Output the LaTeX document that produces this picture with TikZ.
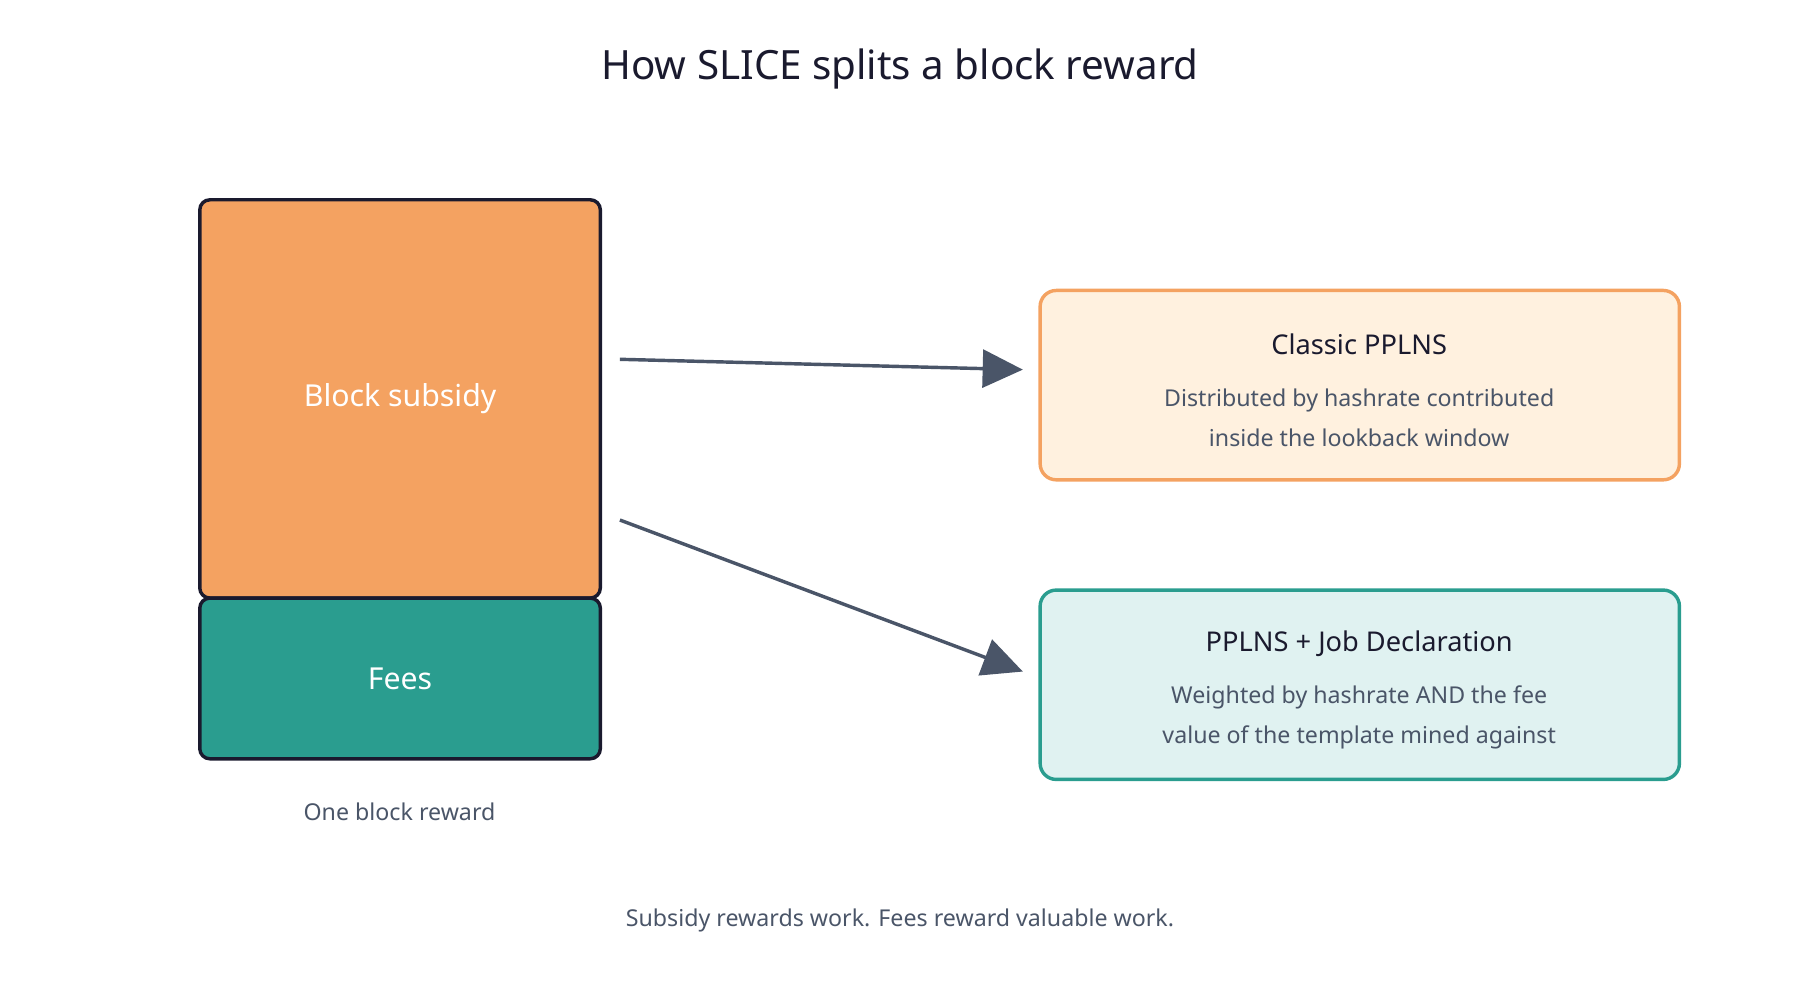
\documentclass[tikz,border=0pt]{standalone}
\usepackage{fontspec}
\setmainfont{Noto Sans}
\usetikzlibrary{positioning, arrows.meta}
\definecolor{ink}{HTML}{1A1A2E}
\definecolor{slate}{HTML}{4A5568}
\definecolor{sand}{HTML}{F4A261}
\definecolor{teal}{HTML}{2A9D8F}
\definecolor{sandbg}{HTML}{FFF1DF}
\definecolor{tealbg}{HTML}{E0F2F1}

\begin{document}
\begin{tikzpicture}[
    x=0.02cm, y=-0.02cm,
    part/.style={
        rectangle,
        draw=ink,
        line width=1.7pt,
        rounded corners=5pt,
        text=white,
        font=\fontsize{15}{18}\selectfont\bfseries
    },
    card/.style={
        rectangle,
        line width=1.7pt,
        rounded corners=8pt,
        minimum width=11.14cm,
        minimum height=3.3cm
    },
    head/.style={font=\fontsize{13.5}{16}\selectfont\bfseries, text=ink},
    desc/.style={font=\fontsize{11.5}{20}\selectfont, text=slate, align=center},
    arrow/.style={-{Triangle[length=0.7cm, width=0.66cm]}, line width=1.7pt, slate}
]
\useasboundingbox (0,0) rectangle (1568,871);

% === Title ===
\node[font=\fontsize{20}{24}\selectfont\bfseries, text=ink] (title) at (784,60) {How SLICE splits a block reward};

% === Block reward stack ===
\node[part, fill=sand, minimum width=6.98cm, minimum height=6.94cm] (subsidy) at (348.5,347.5) {Block subsidy};
\node[part, fill=teal, minimum width=6.98cm, minimum height=2.8cm] (fees) at (348.5,591) {Fees};
\node[font=\fontsize{11.5}{14}\selectfont, text=slate] (caption) at (348,707) {One block reward};

% === Payout schemes ===
\node[card, draw=sand, fill=sandbg] (classic) at (1184.5,335.5) {};
\node[head] (classichead) at (1184,300) {Classic PPLNS};
\node[desc] (classicdesc) at (1184,364) {Distributed by hashrate contributed\\inside the lookback window};

\node[card, draw=teal, fill=tealbg] (jd) at (1184.5,596.5) {};
\node[head] (jdhead) at (1184,561) {PPLNS + Job Declaration};
\node[desc] (jddesc) at (1184,625) {Weighted by hashrate AND the fee\\value of the template mined against};

% Arrows
\coordinate (s1) at (540,313);
\coordinate (e1) at (891,322);
\coordinate (s2) at (540,453);
\coordinate (e2) at (891,585);
\draw[arrow] (s1) -- (e1);
\draw[arrow] (s2) -- (e2);

% Footer
\node[font=\fontsize{11.5}{14}\selectfont, text=slate] (footer) at (784,802) {Subsidy rewards work. Fees reward valuable work.};
\end{tikzpicture}
\end{document}
